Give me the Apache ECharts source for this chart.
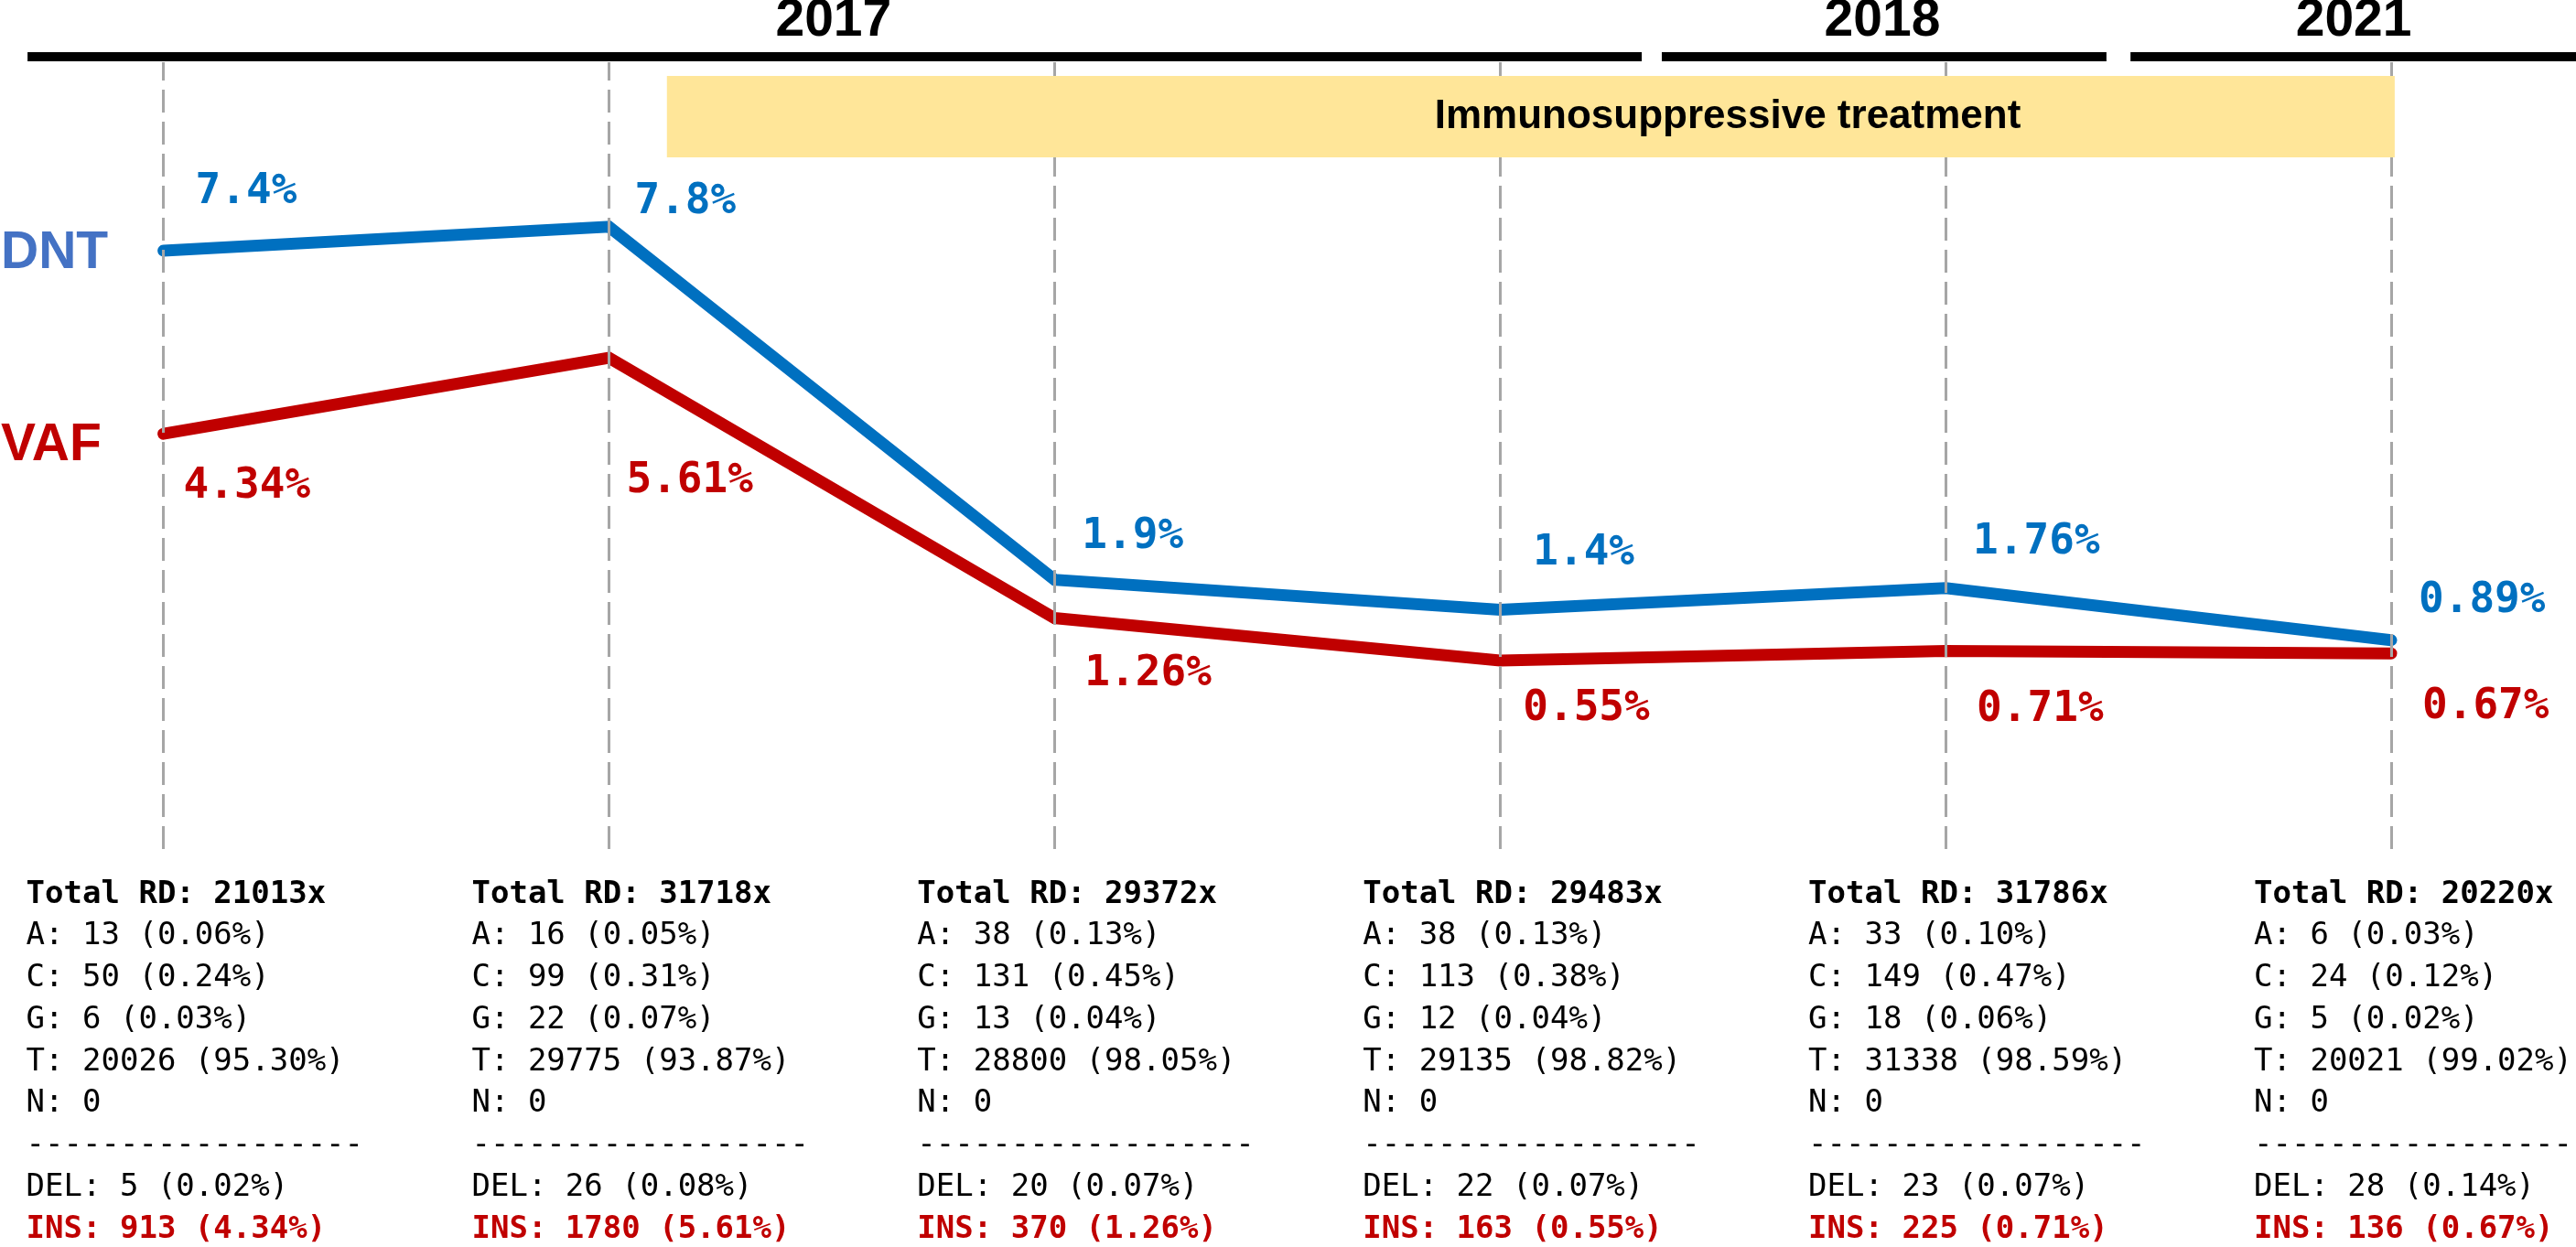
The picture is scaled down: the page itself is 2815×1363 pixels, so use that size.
<!DOCTYPE html>
<html lang="en">
<head>
<meta charset="UTF-8">
<title>DNT / VAF follow-up</title>
<style>
    html, body { margin: 0; padding: 0; background: #fff; }
    #chart { width: 2815px; height: 1363px; }
</style>
</head>
<body>
<div id="chart"></div>
<script src="https://cdn.jsdelivr.net/npm/echarts@6/dist/echarts.min.js"></script>
<script type="text/javascript">
    // timepoints (no visible axis labels)
    var samples = ['S1', 'S2', 'S3', 'S4', 'S5', 'S6'];
    var dntValues = [7.4, 7.8, 1.9, 1.4, 1.76, 0.89];
    var vafValues = [4.34, 5.61, 1.26, 0.55, 0.71, 0.67];

    // read depth tables under each timepoint
    var totalRD = [21013, 31718, 29372, 29483, 31786, 20220];
    var countA = [13, 16, 38, 38, 33, 6];
    var pctA = [0.06, 0.05, 0.13, 0.13, 0.10, 0.03];
    var countC = [50, 99, 131, 113, 149, 24];
    var pctC = [0.24, 0.31, 0.45, 0.38, 0.47, 0.12];
    var countG = [6, 22, 13, 12, 18, 5];
    var pctG = [0.03, 0.07, 0.04, 0.04, 0.06, 0.02];
    var countT = [20026, 29775, 28800, 29135, 31338, 20021];
    var pctT = [95.30, 93.87, 98.05, 98.82, 98.59, 99.02];
    var countN = [0, 0, 0, 0, 0, 0];
    var countDEL = [5, 26, 20, 22, 23, 28];
    var pctDEL = [0.02, 0.08, 0.07, 0.07, 0.07, 0.14];
    var countINS = [913, 1780, 370, 163, 225, 136];
    var pctINS = [4.34, 5.61, 1.26, 0.55, 0.71, 0.67];

    var yearLabels = ['2017', '2018', '2021'];
    var treatmentText = 'Immunosuppressive treatment';

    var BLUE = '#0070C0', RED = '#C00000';
    var MONO = '"DejaVu Sans Mono", "Liberation Mono", monospace';
    var SANS = '"Liberation Sans", Arial, sans-serif';

    var chart = echarts.init(document.getElementById('chart'));

    function withLabels(values, offsets) {
        return values.map(function (v, i) {
            return { value: v, label: { offset: offsets[i] } };
        });
    }

    var dntOffsets = [[35, -64], [28, -27], [30, -47], [36, -61], [30, -50], [30, -43]];
    var vafOffsets = [[22, 58], [19, 135], [33, 61], [25, 53], [34, 65], [34, 59]];

    function lineSeries(name, values, offsets, color, z) {
        return {
            name: name,
            type: 'line',
            data: withLabels(values, offsets),
            z: z,
            symbol: 'circle',
            symbolSize: 2,
            itemStyle: { color: color },
            lineStyle: { color: color, width: 13, cap: 'round', join: 'miter' },
            label: {
                show: true,
                position: 'inside',
                align: 'left',
                verticalAlign: 'middle',
                formatter: '{c}%',
                color: color,
                fontFamily: MONO,
                fontWeight: 'bold',
                fontSize: 46
            }
        };
    }

    var dnt = lineSeries('DNT', dntValues, dntOffsets, BLUE, 2);
    dnt.markLine = {
        silent: true,
        symbol: ['none', 'none'],
        animation: false,
        label: { show: false },
        lineStyle: { color: '#A6A6A6', width: 3, type: [25, 10] },
        data: samples.map(function (s) { return { xAxis: s }; })
    };

    chart.setOption({
        animation: false,
        backgroundColor: '#fff',
        grid: { left: 178.6, right: 202, top: 68, height: 860 },
        xAxis: {
            type: 'category',
            data: samples,
            boundaryGap: false,
            axisLine: { show: false },
            axisTick: { show: false },
            axisLabel: { show: false },
            splitLine: { show: false }
        },
        yAxis: {
            type: 'value',
            min: -2.6,
            max: 10.55,
            show: false,
            splitLine: { show: false }
        },
        series: [lineSeries('VAF', vafValues, vafOffsets, RED, 2), dnt]
    });

    // annotations placed on the category scale
    var x0 = chart.convertToPixel({ xAxisIndex: 0 }, samples[0]);
    var x1 = chart.convertToPixel({ xAxisIndex: 0 }, samples[1]);
    var step = x1 - x0;
    function xAt(t) { return x0 + step * t; }
    function yAt(v) { return chart.convertToPixel({ yAxisIndex: 0 }, v); }

    var fmt = function (n) { return n.toFixed(2); };
    var dashes = '------------------';

    function blockText(i) {
        return [
            '{b|Total RD: ' + totalRD[i] + 'x}',
            '{n|A: ' + countA[i] + ' (' + fmt(pctA[i]) + '%)}',
            '{n|C: ' + countC[i] + ' (' + fmt(pctC[i]) + '%)}',
            '{n|G: ' + countG[i] + ' (' + fmt(pctG[i]) + '%)}',
            '{n|T: ' + countT[i] + ' (' + fmt(pctT[i]) + '%)}',
            '{n|N: ' + countN[i] + '}',
            '{n|' + dashes + '}',
            '{n|DEL: ' + countDEL[i] + ' (' + fmt(pctDEL[i]) + '%)}',
            '{r|INS: ' + countINS[i] + ' (' + fmt(pctINS[i]) + '%)}'
        ].join('\n');
    }

    var LH = 45.75;
    var rich = {
        b: { fontFamily: MONO, fontSize: 34, fontWeight: 'bold', fill: '#000', lineHeight: LH },
        n: { fontFamily: MONO, fontSize: 34, fontWeight: 'normal', fill: '#000', lineHeight: LH },
        r: { fontFamily: MONO, fontSize: 34, fontWeight: 'bold', fill: RED, lineHeight: LH }
    };

    var graphics = [];

    // year bars and labels
    var yearBars = [[-0.305, 3.318], [3.363, 4.361], [4.415, 5.5]];
    var yearCenters = [1.504, 3.858, 4.916];
    yearBars.forEach(function (b, i) {
        graphics.push({
            type: 'rect', z: 100,
            shape: { x: xAt(b[0]), y: 57, width: xAt(b[1]) - xAt(b[0]), height: 10 },
            style: { fill: '#000' }
        });
        graphics.push({
            type: 'text', z: 100, x: xAt(yearCenters[i]), y: 23,
            style: {
                text: yearLabels[i], fill: '#000', fontFamily: SANS, fontWeight: 'bold',
                fontSize: 57, align: 'center', verticalAlign: 'middle'
            }
        });
    });

    // treatment period
    graphics.push({
        type: 'rect', z: 100,
        shape: { x: xAt(1.130), y: 83, width: xAt(5.008) - xAt(1.130), height: 89 },
        style: { fill: '#FFE699' }
    });
    graphics.push({
        type: 'text', z: 101, x: xAt(3.511), y: 128,
        style: {
            text: treatmentText, fill: '#000', fontFamily: SANS, fontWeight: 'bold',
            fontSize: 44, align: 'center', verticalAlign: 'middle'
        }
    });

    // series names at the left
    graphics.push({
        type: 'text', z: 100, x: 1, y: yAt(dntValues[0]) + 3,
        style: {
            text: 'DNT', fill: '#4472C4', fontFamily: SANS, fontWeight: 'bold',
            fontSize: 57, align: 'left', verticalAlign: 'middle'
        }
    });
    graphics.push({
        type: 'text', z: 100, x: 1, y: yAt(vafValues[0]) + 13,
        style: {
            text: 'VAF', fill: RED, fontFamily: SANS, fontWeight: 'bold',
            fontSize: 57, align: 'left', verticalAlign: 'middle'
        }
    });

    // read depth blocks
    samples.forEach(function (s, i) {
        graphics.push({
            type: 'text', z: 100, x: xAt(i) - 150, y: 955,
            style: {
                text: blockText(i), rich: rich, fontFamily: MONO, fontSize: 34,
                fill: '#000', align: 'left', verticalAlign: 'top'
            }
        });
    });

    chart.setOption({ graphic: graphics });
</script>
</body>
</html>
